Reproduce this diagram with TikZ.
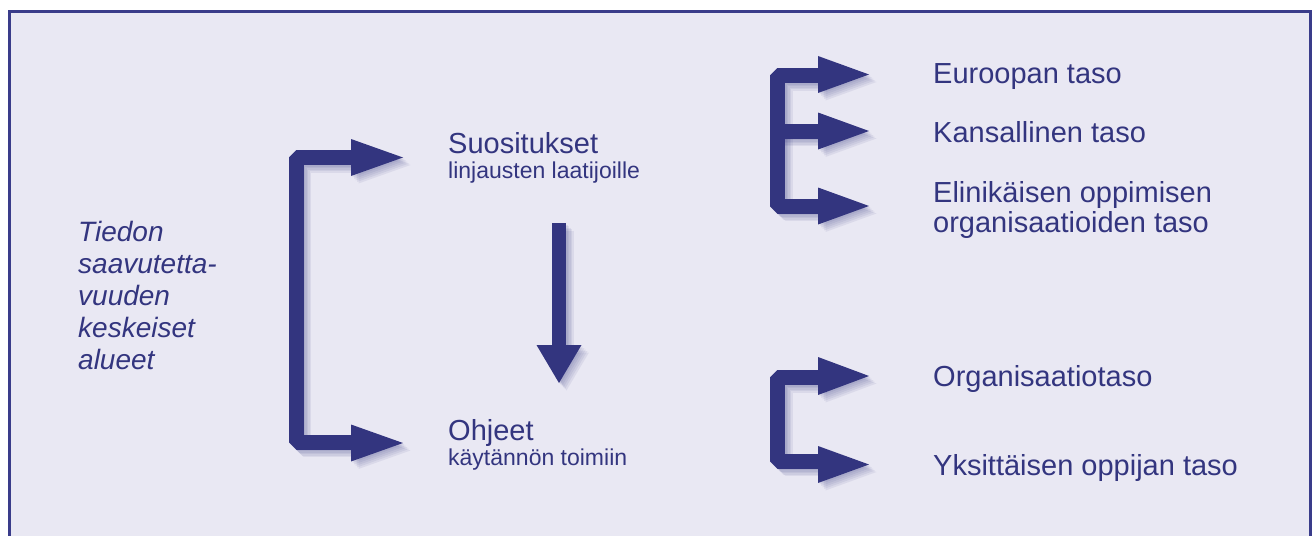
\documentclass[tikz,border=0pt]{standalone}
\usepackage{fontspec}
\setmainfont{Liberation Sans}
\definecolor{navy}{HTML}{33357F}
\definecolor{bgl}{HTML}{E9E8F3}
\definecolor{frm}{HTML}{3A3C8A}
\newcommand\withshadow[1]{%
  \foreach \d in {1.5,3,4.5,6,7.5}{%
    \begin{scope}[shift={(\d,\d)}, opacity=0.08]#1\end{scope}}%
  #1}
\tikzset{
  bar/.style={draw=navy, line width=15pt, line join=bevel, line cap=butt},
  vbar/.style={draw=navy, line width=17pt, line cap=butt},
  head/.style={fill=navy},
  lbl/.style={text=navy, inner sep=0pt, anchor=base west, font=\fontsize{29}{30}\selectfont},
  sublbl/.style={text=navy, inner sep=0pt, anchor=base west, font=\fontsize{23}{25}\selectfont},
}
\begin{document}
\begin{tikzpicture}[x=1pt,y=-1pt]
\useasboundingbox (0,0) rectangle (1313,535);
\clip (0,0) rectangle (1313,535);
\fill[white] (0,0) rectangle (1313,535);
\fill[bgl] (9.5,12) rectangle (1310.5,545);
\draw[frm, line width=3pt] (9.5,545) -- (9.5,12) -- (1310.5,12) -- (1310.5,545);

% left bracket
\withshadow{%
  \draw[bar] (352,157.5) -- (296,157.5) -- (296,442) -- (352,442);
  \fill[head] (351,139) -- (403,157.5) -- (351,176) -- cycle;
  \fill[head] (351,424.5) -- (403,443) -- (351,461.5) -- cycle;
}
% down arrow
\withshadow{%
  \draw[bar, line width=14pt] (559,223) -- (559,346);
  \fill[head] (536.5,345) -- (581.5,345) -- (559,383) -- cycle;
}
% E bracket
\withshadow{%
  \draw[bar] (819,75.5) -- (777.5,75.5) -- (777.5,206) -- (819,206);
  \draw[bar] (777.5,131) -- (819,131);
  \fill[head] (818,56) -- (869,74.5) -- (818,93) -- cycle;
  \fill[head] (818,112.5) -- (869,131) -- (818,149.5) -- cycle;
  \fill[head] (818,187.5) -- (869,206) -- (818,224.5) -- cycle;
}
% C bracket
\withshadow{%
  \draw[bar] (819,377.5) -- (777.5,377.5) -- (777.5,461) -- (819,461);
  \fill[head] (818,357) -- (869,376) -- (818,395) -- cycle;
  \fill[head] (818,446) -- (869,464.5) -- (818,483) -- cycle;
}

% texts
\node[text=navy, inner sep=0pt, anchor=north west, align=left,
      font=\fontsize{28}{32}\selectfont\itshape] (alue) at (78,221.5)
  {Tiedon\\saavutetta-\\vuuden\\keskeiset\\alueet};
\node[lbl] (suos) at (448,153) {Suositukset};
\node[sublbl] (suossub) at (448,178) {linjausten laatijoille};
\node[lbl] (ohj) at (448,440) {Ohjeet};
\node[sublbl] (ohjsub) at (448,465) {käytännön toimiin};
\node[lbl] (eur) at (933,83) {Euroopan taso};
\node[lbl] (kans) at (933,142) {Kansallinen taso};
\node[text=navy, inner sep=0pt, anchor=north west, align=left,
      font=\fontsize{29}{30}\selectfont] (elin) at (933,181)
  {Elinikäisen oppimisen\\organisaatioiden taso};
\node[lbl] (org) at (933,386) {Organisaatiotaso};
\node[lbl] (yks) at (933,475) {Yksittäisen oppijan taso};
\end{tikzpicture}
\end{document}
